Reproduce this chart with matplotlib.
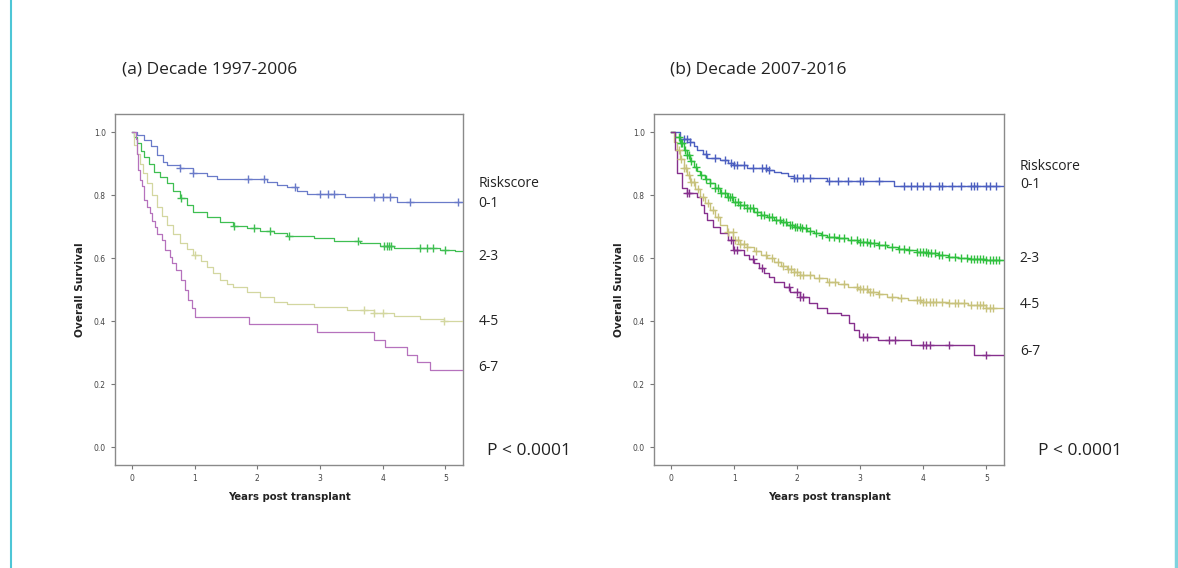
import numpy as np
import matplotlib
matplotlib.use("Agg")
import matplotlib.pyplot as plt
from matplotlib.lines import Line2D
import matplotlib.transforms as mtransforms

# ---- Panel (a): decade 1997-2006 (time in years, survival) ----
a_blue_t = [0, 0.08, 0.19, 0.3, 0.4, 0.5, 0.56, 0.77, 0.98, 1.2, 1.36, 2.15, 2.31, 2.47, 2.63, 2.79, 2.93, 3.4, 4.23]
a_blue_s = [1.0, 0.99, 0.976, 0.955, 0.928, 0.905, 0.896, 0.886, 0.87, 0.861, 0.852, 0.843, 0.833, 0.825, 0.815, 0.804, 0.804, 0.793, 0.778]
a_blue_c = [0.77, 0.98, 1.85, 2.1, 2.6, 3.0, 3.12, 3.22, 3.86, 4.0, 4.12, 4.43, 5.2]

a_green_t = [0, 0.04, 0.08, 0.14, 0.19, 0.27, 0.35, 0.45, 0.56, 0.66, 0.77, 0.88, 0.98, 1.2, 1.41, 1.62, 1.84, 2.05, 2.26, 2.47,
             2.9, 3.22, 3.64, 3.96, 4.18, 4.92, 5.15]
a_green_s = [1.0, 0.985, 0.965, 0.94, 0.923, 0.9, 0.875, 0.857, 0.838, 0.815, 0.79, 0.768, 0.748, 0.73, 0.716, 0.703, 0.695, 0.688, 0.679, 0.671,
             0.663, 0.656, 0.65, 0.639, 0.634, 0.626, 0.623]
a_green_c = [0.78, 1.63, 1.95, 2.2, 2.5, 3.6, 4.02, 4.07, 4.1, 4.13, 4.6, 4.7, 4.8, 5.0]

a_yel_t = [0, 0.04, 0.08, 0.13, 0.18, 0.24, 0.32, 0.4, 0.48, 0.56, 0.66, 0.77, 0.88, 0.98, 1.1, 1.2, 1.3, 1.41, 1.52, 1.62, 1.84,
           2.05, 2.26, 2.47, 2.9, 3.43, 3.86, 4.18, 4.6, 4.97]
a_yel_s = [1.0, 0.96, 0.93, 0.9, 0.87, 0.838, 0.8, 0.764, 0.735, 0.706, 0.677, 0.648, 0.628, 0.61, 0.592, 0.574, 0.553, 0.531, 0.518, 0.508, 0.494,
           0.478, 0.462, 0.454, 0.447, 0.436, 0.425, 0.417, 0.407, 0.401]
a_yel_c = [1.0, 3.7, 3.86, 4.0, 4.98]

a_pur_t = [0, 0.06, 0.08, 0.1, 0.13, 0.16, 0.19, 0.24, 0.29, 0.32, 0.37, 0.4, 0.48, 0.53, 0.6, 0.64, 0.7, 0.78, 0.85, 0.9, 0.96, 1.01,
           1.86, 2.95, 3.86, 4.04, 4.39, 4.55, 4.76]
a_pur_s = [1.0, 0.98, 0.93, 0.88, 0.85, 0.83, 0.785, 0.763, 0.743, 0.72, 0.7, 0.678, 0.658, 0.626, 0.605, 0.584, 0.563, 0.531, 0.5, 0.468, 0.441, 0.415,
           0.39, 0.365, 0.342, 0.318, 0.294, 0.27, 0.246]
a_pur_c = []

# ---- Panel (b): decade 2007-2016 ----
b_blue_t = [0, 0.14, 0.3, 0.36, 0.41, 0.5, 0.57, 0.78, 0.9, 0.99, 1.2, 1.52, 1.63, 1.74, 1.85, 1.95, 2.37, 2.48, 3.54]
b_blue_s = [1.0, 0.98, 0.97, 0.958, 0.944, 0.93, 0.917, 0.912, 0.904, 0.896, 0.886, 0.879, 0.875, 0.87, 0.862, 0.856, 0.854, 0.845, 0.83]
b_blue_c = [0.2, 0.25, 0.3, 0.55, 0.7, 0.85, 0.95, 1.0, 1.05, 1.15, 1.3, 1.45, 1.5, 1.55, 1.95, 2.0, 2.1, 2.2, 2.5, 2.65, 2.8,
            3.0, 3.05, 3.3, 3.7, 3.8, 3.9, 4.0, 4.1, 4.25, 4.3, 4.45, 4.6, 4.75, 4.8, 4.85, 5.0, 5.05, 5.15]

b_green_t = [0, 0.07, 0.14, 0.2, 0.25, 0.3, 0.36, 0.41, 0.46, 0.54, 0.62, 0.7, 0.78, 0.88, 0.99, 1.1, 1.2, 1.31, 1.42, 1.52, 1.63, 1.74,
             1.84, 1.95, 2.05, 2.16, 2.27, 2.38, 2.48, 2.64, 2.8, 2.96, 3.12, 3.28, 3.43, 3.6, 3.75, 3.9, 4.07, 4.23, 4.39, 4.55, 4.71, 5.0]
b_green_s = [1.0, 0.985, 0.965, 0.945, 0.928, 0.91, 0.89, 0.877, 0.865, 0.851, 0.838, 0.822, 0.806, 0.793, 0.78, 0.769, 0.759, 0.748, 0.738, 0.73, 0.722, 0.714,
             0.706, 0.7, 0.695, 0.687, 0.679, 0.674, 0.669, 0.663, 0.658, 0.653, 0.648, 0.642, 0.637, 0.631, 0.626, 0.621, 0.616, 0.61, 0.605, 0.601, 0.598, 0.595]
b_green_c = [0.12, 0.15, 0.18, 0.22, 0.25, 0.28, 0.31, 0.4, 0.48, 0.55, 0.62, 0.7, 0.75, 0.8, 0.85, 0.9, 0.93, 0.97, 1.02, 1.06, 1.1,
             1.15, 1.2, 1.25, 1.3, 1.36, 1.42, 1.48, 1.55, 1.6, 1.66, 1.72, 1.78, 1.83, 1.88, 1.92, 1.96, 2.0, 2.04, 2.08, 2.14,
             2.2, 2.3, 2.4, 2.5, 2.58, 2.66, 2.75, 2.85, 2.95, 3.0, 3.05, 3.1, 3.15, 3.22, 3.3, 3.4, 3.5, 3.62, 3.7, 3.78, 3.9,
             3.95, 4.0, 4.04, 4.08, 4.12, 4.18, 4.25, 4.3, 4.4, 4.5, 4.6, 4.7, 4.75, 4.8, 4.85, 4.9, 4.95, 5.0, 5.05, 5.1, 5.15, 5.2]

b_yel_t = [0, 0.05, 0.09, 0.14, 0.2, 0.25, 0.3, 0.38, 0.46, 0.54, 0.62, 0.7, 0.78, 0.88, 0.99, 1.1, 1.2, 1.31, 1.42, 1.52, 1.63, 1.74,
           1.84, 1.95, 2.05, 2.27, 2.48, 2.64, 2.8, 2.96, 3.12, 3.28, 3.43, 3.6, 3.75, 3.96, 4.39, 4.71, 5.0]
b_yel_s = [1.0, 0.97, 0.944, 0.915, 0.886, 0.865, 0.843, 0.82, 0.796, 0.775, 0.754, 0.73, 0.706, 0.682, 0.658, 0.647, 0.637, 0.624, 0.611, 0.6, 0.589, 0.577,
           0.565, 0.556, 0.547, 0.536, 0.526, 0.518, 0.51, 0.502, 0.494, 0.486, 0.478, 0.473, 0.468, 0.462, 0.459, 0.452, 0.441]
b_yel_c = [0.12, 0.16, 0.2, 0.24, 0.28, 0.32, 0.36, 0.42, 0.5, 0.58, 0.66, 0.75, 0.9, 0.98, 1.02, 1.06, 1.1, 1.15, 1.2, 1.35, 1.5,
           1.6, 1.7, 1.78, 1.85, 1.9, 1.95, 2.0, 2.05, 2.1, 2.2, 2.35, 2.5, 2.6, 2.75, 2.95, 3.0, 3.05, 3.1, 3.15, 3.2, 3.3, 3.5,
           3.65, 3.9, 3.95, 4.0, 4.05, 4.1, 4.15, 4.2, 4.3, 4.4, 4.5, 4.55, 4.65, 4.75, 4.85, 4.9, 4.95, 5.0, 5.05, 5.1]

b_pur_t = [0, 0.06, 0.1, 0.17, 0.25, 0.41, 0.47, 0.53, 0.57, 0.67, 0.78, 0.91, 0.99, 1.15, 1.23, 1.31, 1.39, 1.47, 1.55, 1.63, 1.79, 1.89,
           2.05, 2.19, 2.32, 2.48, 2.69, 2.82, 2.9, 2.98, 3.28, 3.8, 4.81]
b_pur_s = [1.0, 0.944, 0.87, 0.822, 0.806, 0.796, 0.77, 0.745, 0.722, 0.7, 0.679, 0.658, 0.626, 0.61, 0.597, 0.584, 0.568, 0.552, 0.54, 0.526, 0.51, 0.494,
           0.478, 0.457, 0.441, 0.425, 0.42, 0.396, 0.373, 0.351, 0.341, 0.325, 0.293]
b_pur_c = [0.25, 0.28, 0.95, 1.0, 1.05, 1.3, 1.45, 1.87, 2.0, 2.05, 2.1, 3.05, 3.1, 3.45, 3.55, 4.0, 4.05, 4.1, 4.4, 5.0]

risk_groups = ["0-1", "2-3", "4-5", "6-7"]
titles = ["(a) Decade 1997-2006", "(b) Decade 2007-2016"]
p_text = "P < 0.0001"
xticks = [0, 1, 2, 3, 4, 5]
yticks = [0.0, 0.2, 0.4, 0.6, 0.8, 1.0]

colors_a = ["#6a7bc9", "#3fbf52", "#d3d7a0", "#b672bd"]
colors_b = ["#4c5fc0", "#2fc03e", "#c8c27c", "#86308d"]

# label heights (data units) next to the right-hand axis
label_y_a = [0.839, 0.775, 0.607, 0.398, 0.252]
label_y_b = [0.890, 0.833, 0.598, 0.452, 0.303]

panels = [
    dict(curves=[(a_blue_t, a_blue_s, a_blue_c), (a_green_t, a_green_s, a_green_c),
                 (a_yel_t, a_yel_s, a_yel_c), (a_pur_t, a_pur_s, a_pur_c)],
         colors=colors_a, labels_y=label_y_a, lw=0.9, rect=[0.0976, 0.1813, 0.2954, 0.618],
         p_x=1.07, title_x=122),
    dict(curves=[(b_blue_t, b_blue_s, b_blue_c), (b_green_t, b_green_s, b_green_c),
                 (b_yel_t, b_yel_s, b_yel_c), (b_pur_t, b_pur_s, b_pur_c)],
         colors=colors_b, labels_y=label_y_b, lw=1.0, rect=[0.5552, 0.1813, 0.2971, 0.618],
         p_x=1.097, title_x=670),
]

XMAX = 5.28

fig = plt.figure(figsize=(11.78, 5.68), dpi=100)
fig.patch.set_facecolor("white")

for i, p in enumerate(panels):
    ax = fig.add_axes(p["rect"])
    for (t, s, c), col in zip(p["curves"], p["colors"]):
        t = np.array(t + [XMAX])
        s = np.array(s + [s[-1]])
        ax.step(t, s, where="post", color=col, lw=p["lw"], zorder=3)
        if c:
            c = np.array(c)
            idx = np.searchsorted(t, c, side="right") - 1
            ax.plot(c, s[idx], ls="none", marker="+", ms=5.5, mew=1.0, color=col, zorder=4)

    ax.set_xlim(-0.27, XMAX)
    ax.set_ylim(-0.056, 1.058)
    ax.set_xticks(xticks)
    ax.set_yticks(yticks)
    ax.set_xticklabels([str(v) for v in xticks])
    ax.set_yticklabels([f"{v:.1f}" for v in yticks])
    ax.tick_params(labelsize=5.5, labelcolor="#444444", color="#777777", length=3, width=0.8)
    for sp in ax.spines.values():
        sp.set_color("#8a8a8a")
        sp.set_linewidth(1.0)

    ax.text(-0.10, 0.5, "Overall Survival", transform=ax.transAxes, rotation=90,
            ha="center", va="center", fontsize=7.6, fontweight="bold", color="#222222")
    ax.text(0.5, -0.09, "Years post transplant", transform=ax.transAxes,
            ha="center", va="center", fontsize=7.3, fontweight="bold", color="#222222")

    trans = mtransforms.blended_transform_factory(ax.transAxes, ax.transData)
    ly = p["labels_y"]
    ax.text(1.045, ly[0], "Riskscore", transform=trans, ha="left", va="center",
            fontsize=10, family="Open Sans", color="#222222")
    for lab, yy in zip(risk_groups, ly[1:]):
        ax.text(1.045, yy, lab, transform=trans, ha="left", va="center",
                fontsize=10, family="Open Sans", color="#222222")
    ax.text(p["p_x"], -0.012, p_text, transform=trans, ha="left", va="center",
            fontsize=12.5, family="Open Sans", color="#222222")

    fig.text(p["title_x"] / 1178, 1 - 70 / 568, titles[i], ha="left", va="center",
             fontsize=12.5, family="Open Sans", color="#222222")

# light cyan frame lines at the left and right edge
fig.add_artist(Line2D([10.5 / 1178, 10.5 / 1178], [0, 1], color="#4ec6d6", lw=1.5))
fig.add_artist(Line2D([1176 / 1178, 1176 / 1178], [0, 1], color="#7fd3de", lw=2.5))

fig.savefig("out.png", dpi=100)
